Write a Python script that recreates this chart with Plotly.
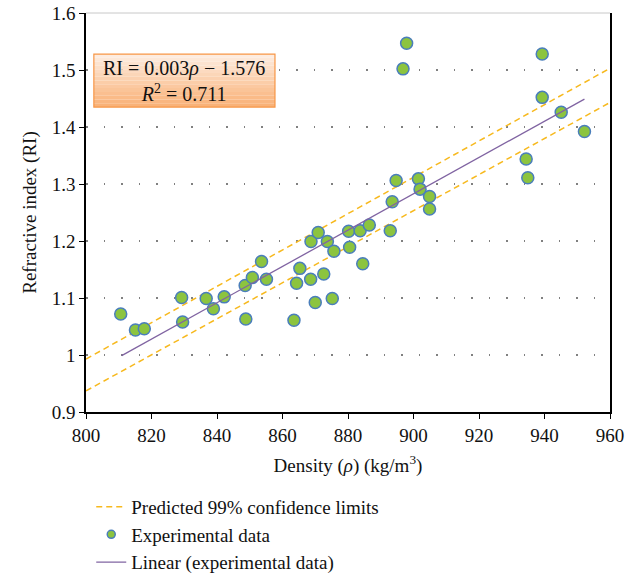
"""
Refractive index vs density - scatter with linear fit and 99% limits
"""

import plotly.graph_objects as go

density = [810.6, 815.1, 817.8, 829.2, 829.5, 836.7, 838.9, 842.2, 848.6, 848.8,
           850.8, 853.6, 855.1, 863.5, 864.3, 865.3, 868.6, 868.7, 870.0, 870.9,
           872.6, 873.7, 875.2, 875.7, 880.2, 880.5, 883.7, 884.5, 886.5, 892.9,
           893.5, 894.7, 896.8, 897.9, 901.5, 902.0, 904.9, 904.9, 934.4, 934.9,
           939.3, 939.3, 945.1, 952.2]
refr_index = [1.072, 1.044, 1.046, 1.101, 1.058, 1.099, 1.081, 1.102, 1.122, 1.063,
              1.136, 1.164, 1.133, 1.061, 1.126, 1.152, 1.133, 1.199, 1.092, 1.215,
              1.142, 1.199, 1.099, 1.182, 1.217, 1.189, 1.218, 1.160, 1.228, 1.218,
              1.269, 1.306, 1.502, 1.547, 1.309, 1.291, 1.278, 1.256, 1.344, 1.311,
              1.528, 1.452, 1.426, 1.392]

# linear trend line end points
fit_x = [810.9, 952.2]
fit_y = [0.999, 1.449]

# predicted 99% confidence limits (upper, lower)
limit_x = [800, 960]
upper_y = [0.993, 1.503]
lower_y = [0.937, 1.443]

x_ticks = [800, 820, 840, 860, 880, 900, 920, 940, 960]
y_ticks = [0.9, 1.0, 1.1, 1.2, 1.3, 1.4, 1.5, 1.6]
y_tick_text = ["0.9", "1", "1.1", "1.2", "1.3", "1.4", "1.5", "1.6"]

SERIF = "Liberation Serif, Times New Roman, serif"
GREEN = '#8CC43F'
BLUE_EDGE = '#4A7EBB'

fig = go.Figure()

fig.add_trace(go.Scatter(
    x=limit_x + [None] + limit_x,
    y=upper_y + [None] + lower_y,
    mode='lines',
    name='Predicted 99% confidence limits',
    line=dict(color='#F7B91E', width=1.5, dash='6px,4px'),
    hoverinfo='skip',
    legendrank=1,
))

fig.add_trace(go.Scatter(
    x=density,
    y=refr_index,
    mode='markers',
    name='Experimental data',
    marker=dict(size=12, color=GREEN, line=dict(color=BLUE_EDGE, width=1.5)),
    showlegend=False,
))
# legend proxy with the small marker used in the key
fig.add_trace(go.Scatter(
    x=[None], y=[None],
    mode='markers',
    name='Experimental data',
    marker=dict(size=8, color=GREEN, line=dict(color=BLUE_EDGE, width=1.5)),
    legendrank=2,
))

fig.add_trace(go.Scatter(
    x=fit_x,
    y=fit_y,
    mode='lines',
    name='Linear (experimental data)',
    line=dict(color='#8064A2', width=1.3),
    legendrank=3,
))

# equation box (data coords) with a vertical peach-to-orange gradient
bx0, bx1, by_top, by_bot = 802.4, 857.7, 1.528, 1.435
steps = 14
top_rgb = (253, 236, 224)
bot_rgb = (249, 178, 120)
for i in range(steps):
    t = i / (steps - 1)
    c = tuple(round(a + (b - a) * t) for a, b in zip(top_rgb, bot_rgb))
    ya = by_top + (by_bot - by_top) * i / steps
    yb = by_top + (by_bot - by_top) * (i + 1) / steps
    fig.add_shape(type='rect', xref='x', yref='y', x0=bx0, x1=bx1, y0=yb, y1=ya,
                  fillcolor='rgb(%d,%d,%d)' % c, line=dict(width=0), layer='above')
fig.add_shape(type='rect', xref='x', yref='y', x0=bx0, x1=bx1, y0=by_bot, y1=by_top,
              line=dict(color='#F79646', width=1.2), layer='above')
fig.add_annotation(
    xref='x', yref='y', x=(bx0 + bx1) / 2, y=(by_top + by_bot) / 2,
    text="RI = 0.003<i>ρ</i> − 1.576<br><i>R</i><sup>2</sup> = 0.711",
    showarrow=False, align='center',
    font=dict(family=SERIF, size=20, color='#111'),
)

# light top frame line
fig.add_shape(type='line', xref='paper', yref='paper', x0=0, x1=1, y0=1, y1=1,
              line=dict(color='#C8C8C8', width=1))

fig.update_layout(
    width=640, height=575,
    margin=dict(l=86, r=30, t=13, b=163, autoexpand=False),
    paper_bgcolor='white',
    plot_bgcolor='white',
    font=dict(family=SERIF, size=19, color='#111'),
    showlegend=True,
    legend=dict(
        x=0.01, y=-0.19, xanchor='left', yanchor='top',
        font=dict(family=SERIF, size=19, color='#111'),
        tracegroupgap=0, itemwidth=30,
        bgcolor='rgba(0,0,0,0)',
    ),
)
fig.update_xaxes(
    range=[800, 960], tickvals=x_ticks,
    showgrid=False, zeroline=False, automargin=False,
    showline=True, linecolor='black', linewidth=1.5,
    ticks='outside', ticklen=5, tickcolor='black',
    tickfont=dict(size=19), ticklabeloverflow='allow',
    title=dict(text="Density (<i>ρ</i>) (kg/m<sup>3</sup>)", font=dict(size=19), standoff=14),
)
fig.update_yaxes(
    range=[0.9, 1.6], tickvals=y_ticks, ticktext=y_tick_text,
    showgrid=True, gridcolor='#808080', gridwidth=1.5, griddash='1.5px,16px',
    zeroline=False, automargin=False,
    showline=True, linecolor='black', linewidth=1.5, mirror=True,
    ticks='outside', ticklen=5, tickcolor='black',
    tickfont=dict(size=19), ticklabeloverflow='allow',
    title=dict(text="Refractive index (RI)", font=dict(size=19), standoff=10),
)

# drop the page's default body margin so the figure sits at the window corner
fig.write_html("out.html", config={"displayModeBar": False},
               post_script="document.body.style.margin = '0';")
